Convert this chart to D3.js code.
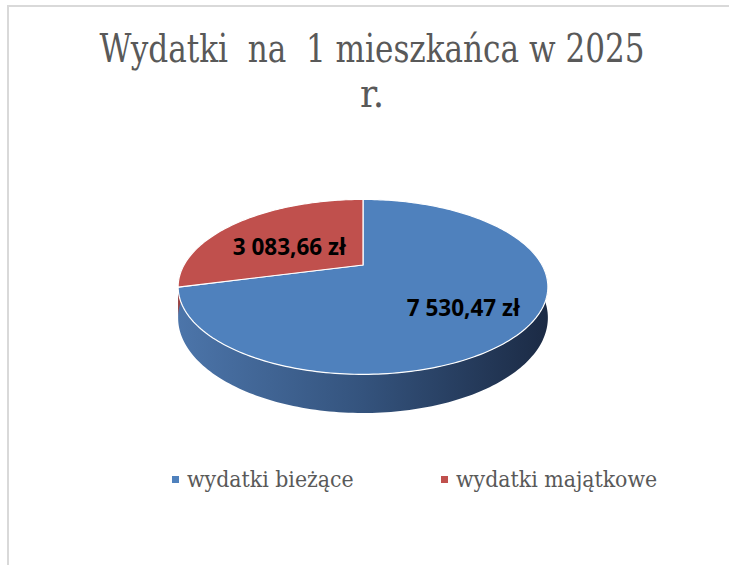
<!DOCTYPE html>
<html>
<head>
<meta charset="utf-8">
<script src="https://cdn.jsdelivr.net/npm/d3@7"></script>
<style>
  body { margin: 0; background: #fff; }
  svg { display: block; }
</style>
</head>
<body>
<div id="chart"></div>
<script>
const categories = ['wydatki bieżące', 'wydatki majątkowe'];
const values = [7530.47, 3083.66];
const valueLabels = ['7 530,47 zł', '3 083,66 zł'];
const titleLines = ['Wydatki  na  1 mieszkańca w 2025', 'r.'];

const width = 729;
const height = 565;
const cx = 363, cy = 265;
const rx = 179, ry = 82;
const depth = 29;
const persp = 0.25;

const topColors = ['#4f81bd', '#c0504d'];
const sideStops = [['#4c75aa', '#34537d', '#1b2a44'], ['#a0403d', '#7a302e', '#5a2220']];

const svg = d3.select('#chart')
  .append('svg')
  .attr('width', width)
  .attr('height', height);

// frame
svg.append('path')
  .attr('d', `M8,${height} L8,6 L${width},6`)
  .attr('fill', 'none')
  .attr('stroke', '#d9d9d9')
  .attr('stroke-width', 2);

// title
svg.append('g')
  .selectAll('text')
  .data(titleLines)
  .join('text')
    .attr('x', 372)
    .attr('y', (d, i) => 62 + i * 45)
    .attr('text-anchor', 'middle')
    .attr('font-family', 'DejaVu Serif Condensed, DejaVu Serif, serif')
    .attr('font-size', 40)
    .attr('fill', '#595959')
    .style('white-space', 'pre')
    .attr('textLength', (d, i) => i === 0 ? 545 : null)
    .attr('lengthAdjust', 'spacingAndGlyphs')
    .text(d => d);

// projection of an angle (clockwise from 12 o'clock) onto the tilted disc
function proj(a, r = 1, dz = 0) {
  const f = 1 / (1 + persp * Math.cos(a));
  return [cx + rx * r * Math.sin(a) * f, cy - ry * r * Math.cos(a) * f + dz * f];
}

const pie = d3.pie().sort(null).value(d => d);
const arcs = pie(values);

function arcPoints(a0, a1, dz) {
  const n = Math.max(2, Math.ceil((a1 - a0) / 0.02));
  return d3.range(n + 1).map(i => proj(a0 + (a1 - a0) * i / n, 1, dz));
}

const defs = svg.append('defs');
sideStops.forEach((stops, i) => {
  const g = defs.append('linearGradient')
    .attr('id', 'side' + i)
    .attr('gradientUnits', 'userSpaceOnUse')
    .attr('x1', cx - rx * 1.04).attr('x2', cx + rx * 1.04)
    .attr('y1', 0).attr('y2', 0);
  stops.forEach((c, j) => g.append('stop').attr('offset', j / (stops.length - 1)).attr('stop-color', c));
});

// side walls (front half only)
const line = d3.line();
svg.append('g')
  .selectAll('path')
  .data(arcs)
  .join('path')
    .attr('d', d => {
      const a0 = Math.max(d.startAngle, Math.PI / 2);
      const a1 = Math.min(d.endAngle, Math.PI * 1.5);
      if (a1 <= a0) return null;
      const topPts = arcPoints(a0, a1, 0);
      const botPts = arcPoints(a0, a1, depth).reverse();
      return line(topPts.concat(botPts)) + 'Z';
    })
    .attr('fill', (d, i) => `url(#side${i})`);

// top faces
svg.append('g')
  .selectAll('path')
  .data(arcs)
  .join('path')
    .attr('d', d => line([[cx, cy]].concat(arcPoints(d.startAngle, d.endAngle, 0))) + 'Z')
    .attr('fill', (d, i) => topColors[i])
    .attr('stroke', '#fff')
    .attr('stroke-width', 1.2)
    .attr('stroke-linejoin', 'round');

// data labels
svg.append('g')
  .selectAll('text')
  .data(arcs)
  .join('text')
    .attr('x', d => proj((d.startAngle + d.endAngle) / 2, 0.6)[0])
    .attr('y', d => proj((d.startAngle + d.endAngle) / 2, 0.6)[1] + 8)
    .attr('dy', '0.35em')
    .attr('text-anchor', 'middle')
    .attr('font-family', 'Open Sans, Liberation Sans, sans-serif')
    .attr('font-weight', 'bold')
    .attr('font-size', 22.5)
    .attr('fill', '#000')
    .text((d, i) => valueLabels[i]);

// legend
const legendX = [172, 441];
const legend = svg.append('g')
  .selectAll('g')
  .data(categories)
  .join('g')
    .attr('transform', (d, i) => `translate(${legendX[i]},480)`);

legend.append('rect')
  .attr('x', 0).attr('y', -4)
  .attr('width', 7).attr('height', 7)
  .attr('fill', (d, i) => topColors[i]);

legend.append('text')
  .attr('x', 15)
  .attr('y', 7)
  .attr('font-family', 'DejaVu Serif Condensed, DejaVu Serif, serif')
  .attr('font-size', 22.8)
  .attr('fill', '#595959')
  .text(d => d);
</script>
</body>
</html>
